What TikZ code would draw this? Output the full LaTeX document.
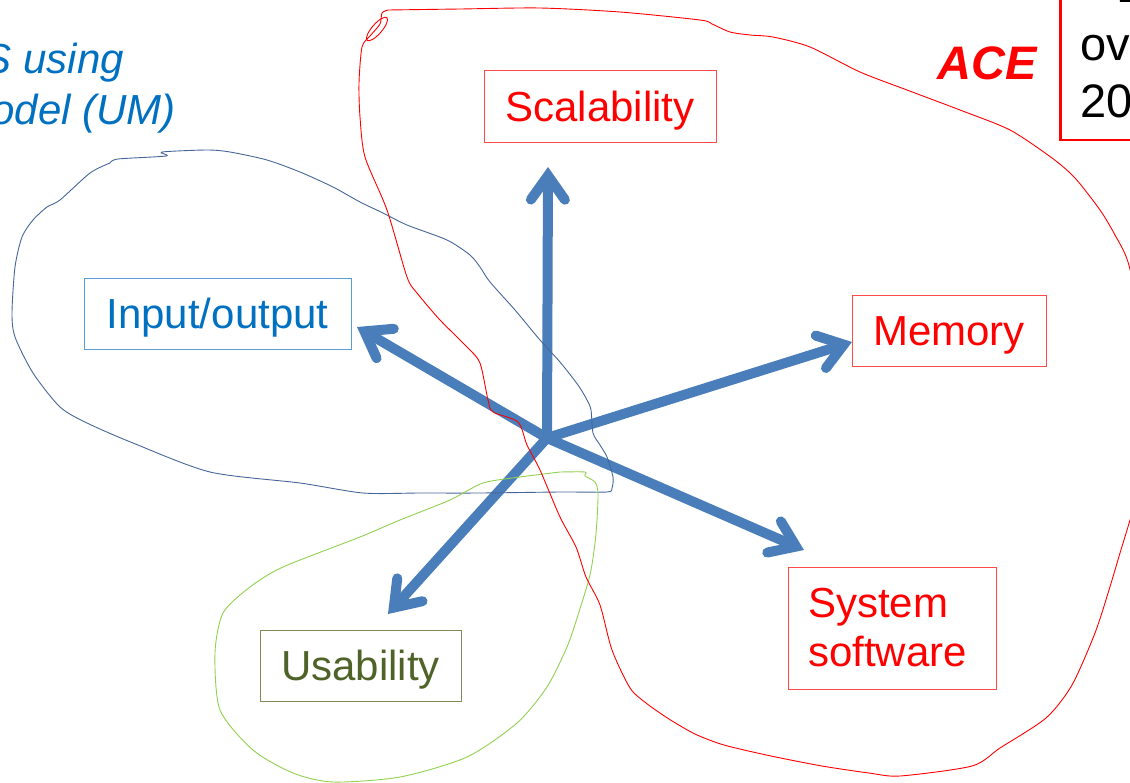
\documentclass[tikz,border=0pt]{standalone}
\usepackage{fontspec}
\setmainfont{Liberation Sans}
\usetikzlibrary{arrows.meta}
\definecolor{axisblue}{HTML}{4A7EBB}
\definecolor{iotext}{HTML}{0070C0}
\definecolor{ioframe}{HTML}{5B9BD5}
\definecolor{usetext}{HTML}{4F6228}
\definecolor{useframe}{HTML}{7F8C5A}
\definecolor{boxred}{HTML}{FF4A4A}
\definecolor{loopblue}{HTML}{46669A}
\definecolor{loopgreen}{HTML}{92D050}
\begin{document}
\begin{tikzpicture}[x=1pt,y=-1pt,
  bigfont/.style={font=\fontsize{42}{49}\selectfont},
  labelbox/.style={draw, line width=0.8pt, inner sep=0pt, bigfont,
    text height=38pt, text depth=8pt},
  axis/.style={line width=10pt, draw=axisblue, line cap=round,
    -{Straight Barb[length=24pt,width=34pt,line cap=round,line join=miter]}},
  sketch/.style={line width=0.9pt, smooth, tension=0.45}]
\useasboundingbox (0,0) rectangle (1130,782);

% heading fragments
\node[text=iotext, font=\fontsize{42}{49}\selectfont\itshape, anchor=base east, inner sep=0pt] (h1) at (124,73) {S using};
\node[text=iotext, font=\fontsize{42}{49}\selectfont\itshape, anchor=base east, inner sep=0pt] (h2) at (176,124) {odel (UM)};
\node[text=red, font=\fontsize{47}{54}\selectfont\bfseries\itshape, anchor=base east, inner sep=0pt] (ace) at (1037,79) {ACE};

% reference box at the top right
\node[draw=red, line width=2.5pt, fill=white, anchor=south west, minimum width=140, minimum height=200, inner sep=0pt] (refbox) at (1059,141) {};
\node[font=\fontsize{47}{54}\selectfont, anchor=base west, inner sep=0pt] (r0) at (1116,2.5) {E};
\node[font=\fontsize{47}{54}\selectfont, anchor=base west, inner sep=0pt] (r1) at (1080,60) {ov};
\node[font=\fontsize{47}{54}\selectfont, anchor=base west, inner sep=0pt] (r2) at (1080,117) {20};

% category boxes
\node[labelbox, draw=boxred, text=red, minimum width=232, minimum height=72] (scal) at (600,106) {Scalability};
\node[labelbox, draw=ioframe, text=iotext, minimum width=267, minimum height=71] (io) at (217.5,313.5) {Input/output};
\node[labelbox, draw=boxred, text=red, minimum width=194, minimum height=71] (mem) at (949,330.5) {Memory};
\node[draw, line width=0.8pt, bigfont, draw=boxred, text=red, inner xsep=20pt, inner ysep=0pt, text width=168pt, minimum height=122, align=left] (sys) at (892,628) {\rule{0pt}{36pt}System\\software\rule[-8pt]{0pt}{8pt}};
\node[labelbox, draw=useframe, text=usetext, minimum width=201, minimum height=71] (usa) at (360.5,665.5) {Usability};

% axes from the common origin
\coordinate (c) at (547,438);
\coordinate (tscal) at (548,167);
\coordinate (tio) at (357,327);
\coordinate (tmem) at (852,342);
\coordinate (tsys) at (804,550);
\coordinate (tusa) at (388,614);
\draw[axis] (c) -- (tscal);
\draw[axis] (c) -- (tio);
\draw[axis] (c) -- (tmem);
\draw[axis] (c) -- (tsys);
\draw[axis] (c) -- (tusa);

% hand-drawn grouping outlines
\draw[sketch, draw=loopblue] plot coordinates {
 (110,163) (118,159) (166,156) (162,152) (207,150) (230,152) (267,160) (300,172)
 (333,187) (360,202) (383,213) (407,225) (447,240) (470,255) (480,267) (490,282)
 (515,310) (540,340) (560,362) (578,385) (587,400) (591,410) (593,433) (600,445)
 (607,457) (613,477) (612,488) (607,492) (560,492) (480,493) (420,493) (363,493)
 (300,483) (210,472) (133,443) (87,423) (60,407) (33,373) (15,337) (12,313)
 (15,267) (22,237) (33,220) (47,207) (60,200) (90,173) (110,163)};

\draw[sketch, draw=loopgreen] plot coordinates {
 (560,472) (585,472) (585,476) (595,482) (598,493) (597,520) (595,543) (590,575)
 (578,615) (567,647) (547,687) (517,723) (467,757) (400,777) (333,782) (293,773)
 (253,750) (220,710) (215,653) (223,613) (250,587) (283,567) (360,537) (400,520)
 (450,500) (483,483) (520,477) (560,472)};

\draw[sketch, draw=red] plot coordinates {
 (388,10) (460,9) (540,8) (620,12) (700,20) (712,24) (730,32) (750,35) (773,37)
 (810,47) (860,72) (907,90) (960,110) (1010,130) (1052,158) (1075,178) (1100,210)
 (1115,235) (1128,262) (1140,320) (1145,420) (1138,490) (1130,520) (1120,553)
 (1109,590) (1095,633) (1072,685) (1046,718) (1000,748) (972,766) (900,776)
 (869,773) (822,766) (771,756) (724,745) (695,734) (669,719) (646,703) (630,688)
 (612,650) (600,605) (586,577) (576,547) (560,517) (540,470) (527,445) (518,422)
 (493,412) (488,400) (480,363) (467,347) (440,320) (417,293) (407,277) (387,210)
 (365,157) (360,117) (359,83) (362,47) (370,36) (380,24) (382,13) (388,10)};
\draw[line width=0.9pt, draw=red] (377,29) ellipse [x radius=15, y radius=5, rotate=49];
\end{tikzpicture}
\end{document}
